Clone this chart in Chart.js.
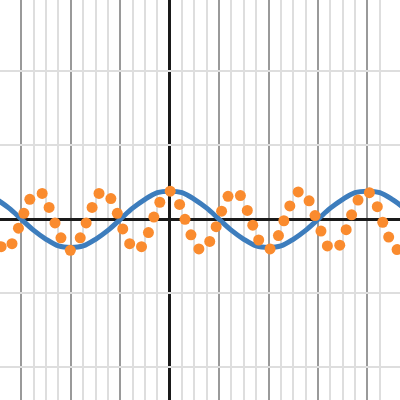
<!DOCTYPE html>
<html>
<head>
<meta charset="utf-8">
<script src="https://cdn.jsdelivr.net/npm/chart.js@4/dist/chart.umd.min.js"></script>
<style>
  html, body { margin: 0; padding: 0; background: #fff; }
  #wrap { width: 400px; height: 400px; }
</style>
</head>
<body>
<div id="wrap"><canvas id="myChart"></canvas></div>
<script>
// x in units of the major grid step, y in units of the horizontal grid step
const xRange = [-3.433, 4.659];
const yRange = [-2.442, 2.963];

const curveX = [-3.5, -3.25, -3, -2.75, -2.5, -2.25, -2, -1.75, -1.5, -1.25, -1, -0.75, -0.5, -0.25,
    0, 0.25, 0.5, 0.75, 1, 1.25, 1.5, 1.75, 2, 2.25, 2.5, 2.75, 3, 3.25, 3.5, 3.75, 4, 4.25, 4.5, 4.75];
const curveY = [0.27, 0.15, 0, -0.15, -0.27, -0.36, -0.38, -0.36, -0.27, -0.15, 0, 0.15, 0.27, 0.36,
    0.38, 0.36, 0.27, 0.15, 0, -0.15, -0.27, -0.36, -0.38, -0.36, -0.27, -0.15, 0, 0.15, 0.27, 0.36, 0.38, 0.36, 0.27, 0.15];

const dotsX = [-3.41, -3.19, -3.06, -2.95, -2.83, -2.58, -2.44, -2.32, -2.20, -2.01, -1.81, -1.69, -1.57, -1.43,
    -1.19, -1.06, -0.95, -0.81, -0.57, -0.43, -0.32, -0.20, 0.01, 0.20, 0.31, 0.43, 0.59, 0.81, 0.94, 1.05,
    1.18, 1.43, 1.57, 1.68, 1.80, 2.03, 2.20, 2.31, 2.43, 2.60, 2.82, 2.94, 3.06, 3.19, 3.44, 3.57, 3.68,
    3.81, 4.04, 4.20, 4.31, 4.43, 4.60];
const dotsY = [-0.37, -0.33, -0.12, 0.08, 0.27, 0.35, 0.16, -0.05, -0.25, -0.42, -0.25, -0.05, 0.16, 0.35,
    0.28, 0.08, -0.13, -0.33, -0.37, -0.18, 0.03, 0.23, 0.38, 0.20, 0.00, -0.21, -0.40, -0.30, -0.10, 0.11,
    0.31, 0.32, 0.12, -0.08, -0.28, -0.40, -0.22, -0.02, 0.18, 0.37, 0.25, 0.05, -0.16, -0.36, -0.35, -0.14, 0.06,
    0.26, 0.36, 0.17, -0.04, -0.24, -0.41];

const curve = curveX.map((x, i) => ({ x: x, y: curveY[i] }));
const dots = dotsX.map((x, i) => ({ x: x, y: dotsY[i] }));

const near = (v, step) => Math.abs(v / step - Math.round(v / step)) < 1e-6;

new Chart(document.getElementById('myChart'), {
    type: 'scatter',
    data: {
        datasets: [{
            type: 'scatter',
            data: dots,
            pointRadius: 5.5,
            pointHoverRadius: 5.5,
            pointBackgroundColor: '#fa8b2e',
            pointBorderWidth: 0,
        }, {
            type: 'line',
            data: curve,
            borderColor: '#3d7dbd',
            borderWidth: 5,
            pointRadius: 0,
            fill: false,
            cubicInterpolationMode: 'monotone',
        }]
    },
    options: {
        responsive: true,
        maintainAspectRatio: false,
        animation: false,
        layout: { padding: 0, autoPadding: false },
        plugins: { legend: { display: false }, tooltip: { enabled: false } },
        scales: {
            x: {
                type: 'linear',
                min: xRange[0],
                max: xRange[1],
                ticks: { display: false, stepSize: 0.25 },
                border: { display: false },
                grid: {
                    drawTicks: false,
                    color: c => {
                        const v = c.tick.value;
                        if (!near(v, 0.25)) return 'rgba(0,0,0,0)';
                        if (Math.abs(v) < 1e-6) return '#1a1a1a';
                        return near(v, 1) ? '#9a9a9a' : '#dedede';
                    },
                    lineWidth: c => Math.abs(c.tick.value) < 1e-6 ? 3 : 2,
                }
            },
            y: {
                type: 'linear',
                min: yRange[0],
                max: yRange[1],
                ticks: { display: false, stepSize: 1 },
                border: { display: false },
                grid: {
                    drawTicks: false,
                    color: c => {
                        const v = c.tick.value;
                        if (!near(v, 1)) return 'rgba(0,0,0,0)';
                        return Math.abs(v) < 1e-6 ? '#1a1a1a' : '#dedede';
                    },
                    lineWidth: c => Math.abs(c.tick.value) < 1e-6 ? 3 : 2,
                }
            }
        }
    }
});
</script>
</body>
</html>
